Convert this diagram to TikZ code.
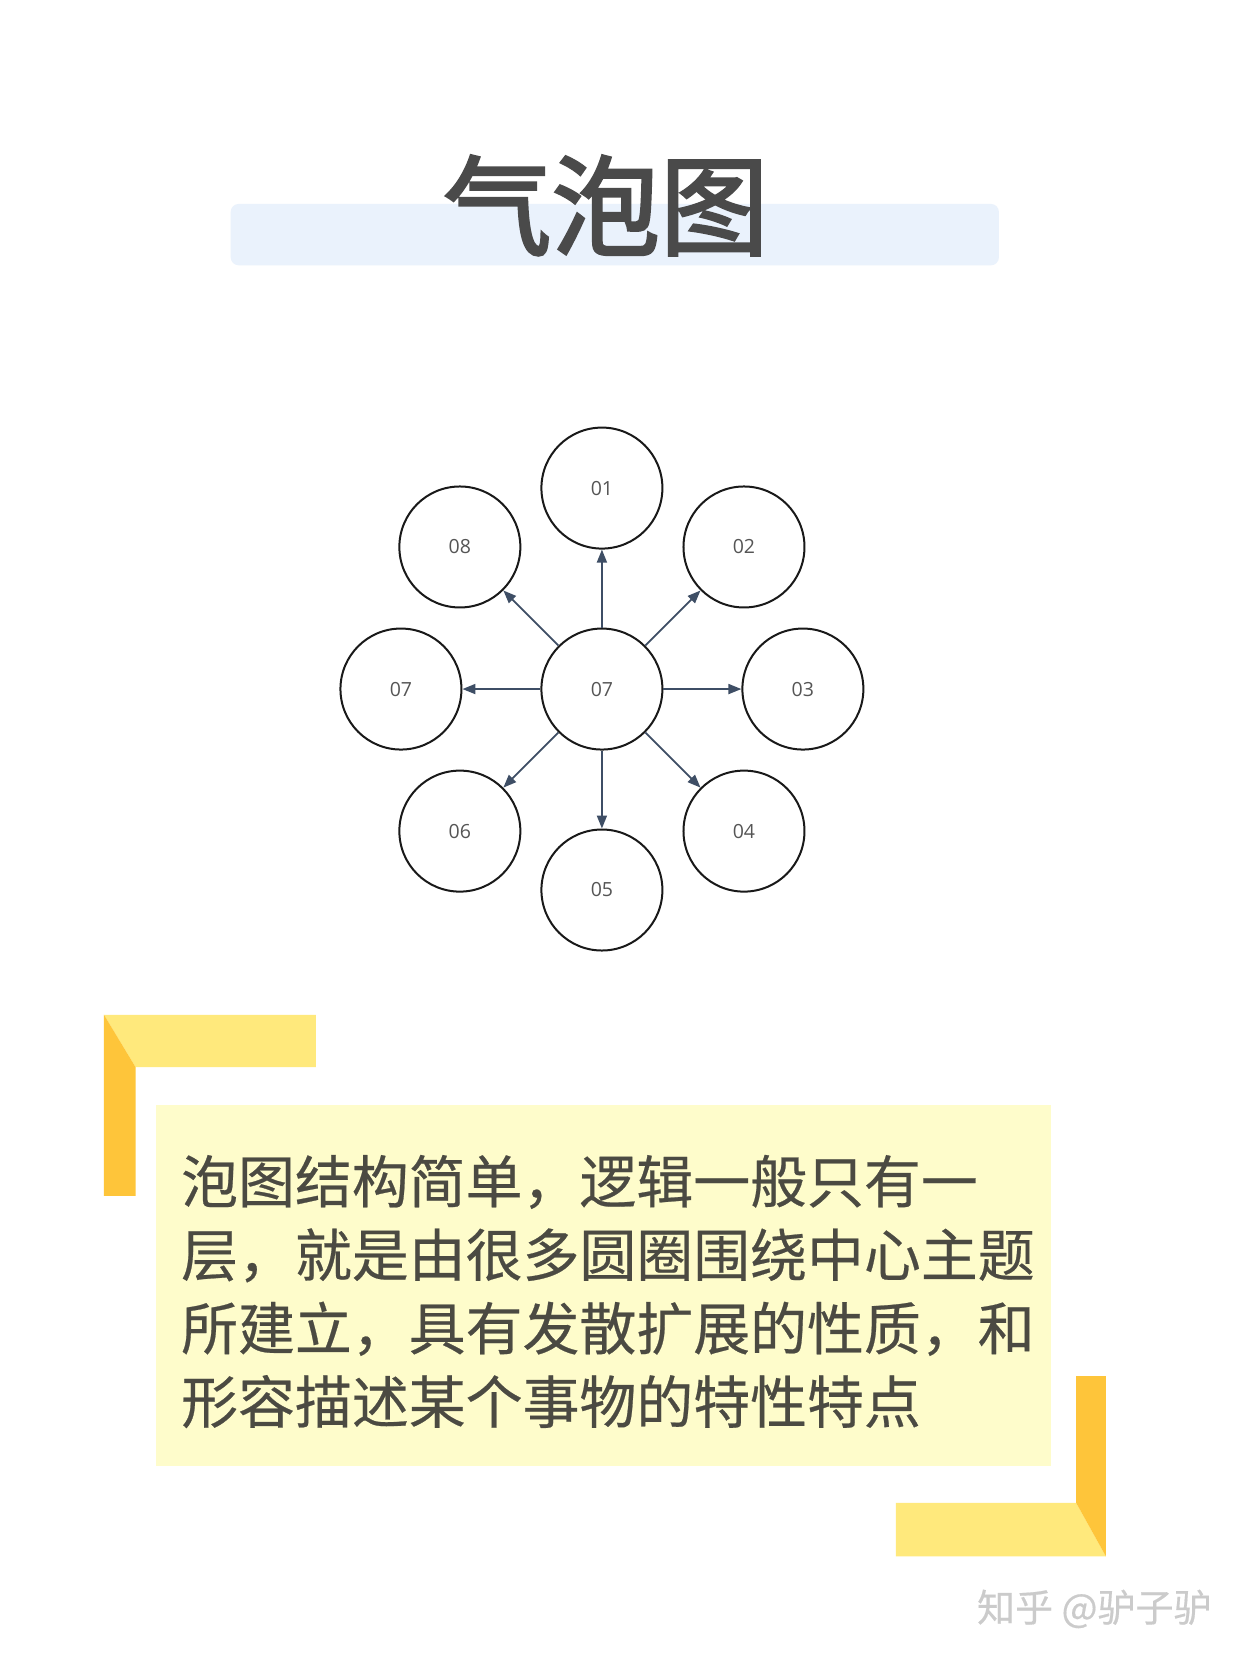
\documentclass[tikz,border=0pt]{standalone}
\usepackage{fontspec}
\setmainfont{Noto Sans CJK SC}
\newfontfamily\cjkfont[FakeBold=0.4]{Noto Sans CJK SC}
\newfontfamily\titlefont[FakeBold=2.5]{Noto Sans CJK SC}
\newfontfamily\labfont{Open Sans}
\usetikzlibrary{arrows.meta}
\definecolor{bandblue}{HTML}{EAF2FC}
\definecolor{titlegray}{HTML}{4A4A4A}
\definecolor{labgray}{HTML}{555555}
\definecolor{arrowblue}{HTML}{3E4E65}
\definecolor{lightyel}{HTML}{FFE97C}
\definecolor{darkyel}{HTML}{FEC53A}
\definecolor{boxyel}{HTML}{FEFCCB}
\definecolor{bodygray}{HTML}{4B4A42}
\definecolor{markgray}{HTML}{CBCBCB}
\tikzset{
  bub/.style={circle, draw=black!90, line width=2pt, minimum size=121pt, inner sep=0pt,
    font=\labfont\fontsize{19.5}{19.5}\selectfont, text=labgray},
  arr/.style={draw=arrowblue, line width=1.8pt, -{Triangle[length=13pt,width=10pt]}},
  bodyline/.style={anchor=base west, inner sep=0pt, text=bodygray,
    font=\cjkfont\fontsize{56.9}{56.9}\selectfont}
}
\begin{document}
\begin{tikzpicture}[x=0.99pt,y=-0.99pt]
\useasboundingbox (0,0) rectangle (1254.55,1676.77);
\fill[white] (0,0) rectangle (1254.55,1676.77);
% title
\fill[bandblue, rounded corners=8pt] (233,206) rectangle (1009,268);
\node[anchor=base, inner sep=0pt, text=titlegray, font=\titlefont\fontsize{108.5}{108.5}\selectfont] (title) at (612,249.3) {气泡图};
% bubbles
\node[bub] (c) at (608,696) {07};
\node[bub] (n1) at (608,493) {01};
\node[bub] (n2) at (751.5,552.5) {02};
\node[bub] (n3) at (811,696) {03};
\node[bub] (n4) at (751.5,839.5) {04};
\node[bub] (n5) at (608,899) {05};
\node[bub] (n6) at (464.5,839.5) {06};
\node[bub] (n7) at (405,696) {07};
\node[bub] (n8) at (464.5,552.5) {08};
\foreach \n in {n1,n2,n3,n4,n5,n6,n7,n8} \draw[arr] (c) -- (\n);
% brackets
\fill[lightyel] (105,1025) -- (319,1025) -- (319,1078) -- (137,1078) -- cycle;
\fill[darkyel] (105,1025) -- (137,1078) -- (137,1208) -- (105,1208) -- cycle;
\fill[lightyel] (905,1518) -- (1087,1518) -- (1117,1572) -- (905,1572) -- cycle;
\fill[darkyel] (1087,1390) -- (1117,1390) -- (1117,1572) -- (1087,1518) -- cycle;
% text box
\fill[boxyel] (158,1116) rectangle (1062,1481);
\node[bodyline] (t1) at (182.8,1215) {泡图结构简单，逻辑一般只有一};
\node[bodyline] (t2) at (182.8,1289.2) {层，就是由很多圆圈围绕中心主题};
\node[bodyline] (t3) at (182.8,1363.4) {所建立，具有发散扩展的性质，和};
\node[bodyline] (t4) at (182.8,1437.6) {形容描述某个事物的特性特点};
% watermark
\node[anchor=base east, inner sep=0pt, text=markgray, font=\cjkfont\fontsize{38}{38}\selectfont] (mark) at (1224,1638) {知乎 @驴子驴};
\end{tikzpicture}
\end{document}
